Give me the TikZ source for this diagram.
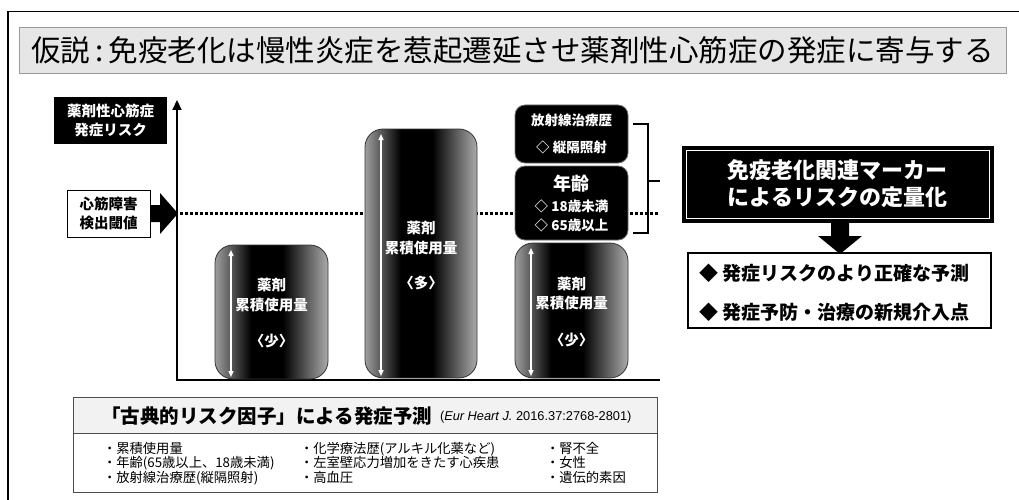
\documentclass[tikz,border=0pt]{standalone}
\usepackage{fontspec}
\setmainfont{Noto Sans CJK JP}
\newfontfamily\lat{Liberation Sans}
\usetikzlibrary{arrows.meta,calc}
\definecolor{titlegray}{HTML}{E6E6E6}
\definecolor{titleborder}{HTML}{9A9A9A}
\definecolor{headgray}{HTML}{F2F2F2}
\definecolor{barL}{HTML}{9E9E9E}
\definecolor{barR}{HTML}{ABABAB}
\pgfdeclarehorizontalshading{barshade}{100bp}{color(0bp)=(barL); color(25bp)=(barL); color(41bp)=(black); color(55bp)=(black); color(75bp)=(barR); color(100bp)=(barR)}
\tikzset{
  bar/.style={rounded corners=18pt, shading=barshade, draw=black!80, line width=0.8pt},
  bartext/.style={text=white, font=\fontsize{14.5}{19.5}\selectfont\bfseries, align=center},
  innerarrow/.style={white, line width=1.3pt, {Triangle[length=6pt,width=5pt]}-{Triangle[length=6pt,width=5pt]}},
  blackbox/.style={fill=black, draw=black!55, line width=0.8pt, rounded corners=10pt, text=white, align=center},
  dotline/.style={line width=3pt, dash pattern=on 3pt off 2pt},
  axisline/.style={line width=2.2pt},
  listcol/.style={anchor=north west, align=left, font=\fontsize{13.3}{14.5}\selectfont},
}
\begin{document}
\begin{tikzpicture}[x=1pt,y=-1pt, every node/.style={inner sep=0pt, outer sep=0pt}]
\useasboundingbox (0,0) rectangle (1019,500);
% outer frame
\coordinate (fr0) at (8,500); \coordinate (fr1) at (8,11.5); \coordinate (fr2) at (1019,11.5);
\draw[line width=1.6pt] (fr0) -- (fr1) -- (fr2);
% title
\node[fill=titlegray, draw=titleborder, line width=0.8pt, minimum width=987pt, minimum height=46pt,
      font=\fontsize{29.5}{30}\selectfont] (title) at (512.5,50) {仮説\,:\,免疫老化は慢性炎症を惹起遷延させ薬剤性心筋症の発症に寄与する};
% axes
\coordinate (origin) at (177,380);
\coordinate (ytop) at (177,100);
\coordinate (xend) at (660,380);
% risk label
\node[fill=black, minimum width=113pt, minimum height=47pt, text=white, align=center,
      font=\fontsize{14.5}{19}\selectfont\bfseries] (risk) at (110.5,120.5) {薬剤性心筋症\\発症リスク};
% threshold
\node[draw=black, line width=1pt, fill=white, minimum width=83pt, minimum height=47pt, align=center,
      font=\fontsize{14.5}{18.5}\selectfont\bfseries] (thr) at (108.5,213.5) {心筋障害\\検出閾値};
\coordinate (dotend) at (658,213.5);
\draw[dotline] (origin|-thr.east) ++(3,0) coordinate (dotstart) -- (dotend);
\draw[axisline, -{Triangle[length=10pt,width=9pt]}] (origin) -- (ytop);
\draw[axisline] ($(origin)+(-1.1,0)$) -- (xend);
\path (thr.east) coordinate (ta);
\fill (ta) ++(0,-8.5) -- ++(10,0) -- ++(0,-12) -- ++(18,20.5) -- ++(-18,20.5) -- ++(0,-12) -- ++(-10,0) -- cycle;
% bars
\node[bar, minimum width=113pt, minimum height=134pt] (bar1) at (271.5,312) {};
\node[bar, minimum width=112pt, minimum height=249pt] (bar2) at (421,253.5) {};
\node[bar, minimum width=113pt, minimum height=135pt] (bar3) at (571.5,310.5) {};
\foreach \b in {bar1,bar2,bar3}{
  \draw[innerarrow] ($(\b.north west)+(16,5)$) -- ($(\b.south west)+(16,-2)$);
}
\node[bartext] (t1) at (271.5,313.5) {薬剤\\累積使用量\\[17pt]〈少〉};
\node[bartext] (t2) at (421,255.5) {薬剤\\累積使用量\\[16pt]〈多〉};
\node[bartext] (t3) at (571.5,312) {薬剤\\累積使用量\\[17pt]〈少〉};
% stacked factor boxes
\node[blackbox, minimum width=113pt, minimum height=58pt, font=\fontsize{13.5}{27}\selectfont\bfseries] (rad) at (571.5,134) {放射線治療歴\\◇ 縦隔照射};
\node[blackbox, minimum width=113pt, minimum height=74pt, font=\fontsize{13.5}{19}\selectfont\bfseries] (age) at (571.5,203) {{\fontsize{18}{18}\selectfont 年齢}\\[2pt]◇ 18歳未満\\◇ 65歳以上};
% bracket
\coordinate (bt) at (633,124); \coordinate (bb) at (633,233); \coordinate (bm) at (660,181);
\draw[line width=2pt] (bt) -- (bt-|648,0) -- (bb-|648,0) -- (bb);
\draw[line width=2pt] (bm-|648,0) -- (bm);
% marker box
\node[fill=black, draw=black, line width=1pt, minimum width=311pt, minimum height=76pt, text=white, align=center,
      font=\fontsize{22}{27}\selectfont\bfseries] (mk) at (837.5,184) {免疫老化関連マーカー\\によるリスクの定量化};
\draw[white, line width=1pt] ($(mk.north west)+(4,4)$) rectangle ($(mk.south east)+(-4,-4)$);
% outcome box
\node[draw=black, line width=1.2pt, fill=white, minimum width=303pt, minimum height=75pt] (out) at (839.5,290.5) {};
\node[anchor=west, align=left, font=\fontsize{19}{39}\selectfont\bfseries] (outtext) at (699,292.5) {◆ 発症リスクのより正確な予測\\◆ 発症予防・治療の新規介入点};
\fill ($(mk.south)+(-6.5,0)$) -- ++(18,0) -- ++(0,14) -- ++(13,0) -- ++(-22,18) -- ++(-22,-18) -- ++(13,0) -- cycle;
% classical risk factors box
\node[fill=headgray, draw=black!70, line width=1pt, minimum width=584pt, minimum height=36pt] (hdr) at (365,415) {};
\node[fill=white, draw=black!70, line width=1pt, minimum width=584pt, minimum height=59pt] (lst) at (365,462.5) {};
\node[anchor=east, font=\fontsize{19.5}{20}\selectfont\bfseries] (hdrtext) at (432,416) {「古典的リスク因子」による発症予測};
\node[anchor=west, font=\lat\fontsize{12.8}{14}\selectfont] (cite) at (440,417) {(\textit{Eur Heart J.} 2016.37:2768-2801)};
\node[listcol] (c1) at (103,442) {・累積使用量\\・年齢(65歳以上、18歳未満)\\・放射線治療歴(縦隔照射)};
\node[listcol] (c2) at (300,442) {・化学療法歴(アルキル化薬など)\\・左室壁応力増加をきたす心疾患\\・高血圧};
\node[listcol] (c3) at (546,442) {・腎不全\\・女性\\・遺伝的素因};
\end{tikzpicture}
\end{document}
